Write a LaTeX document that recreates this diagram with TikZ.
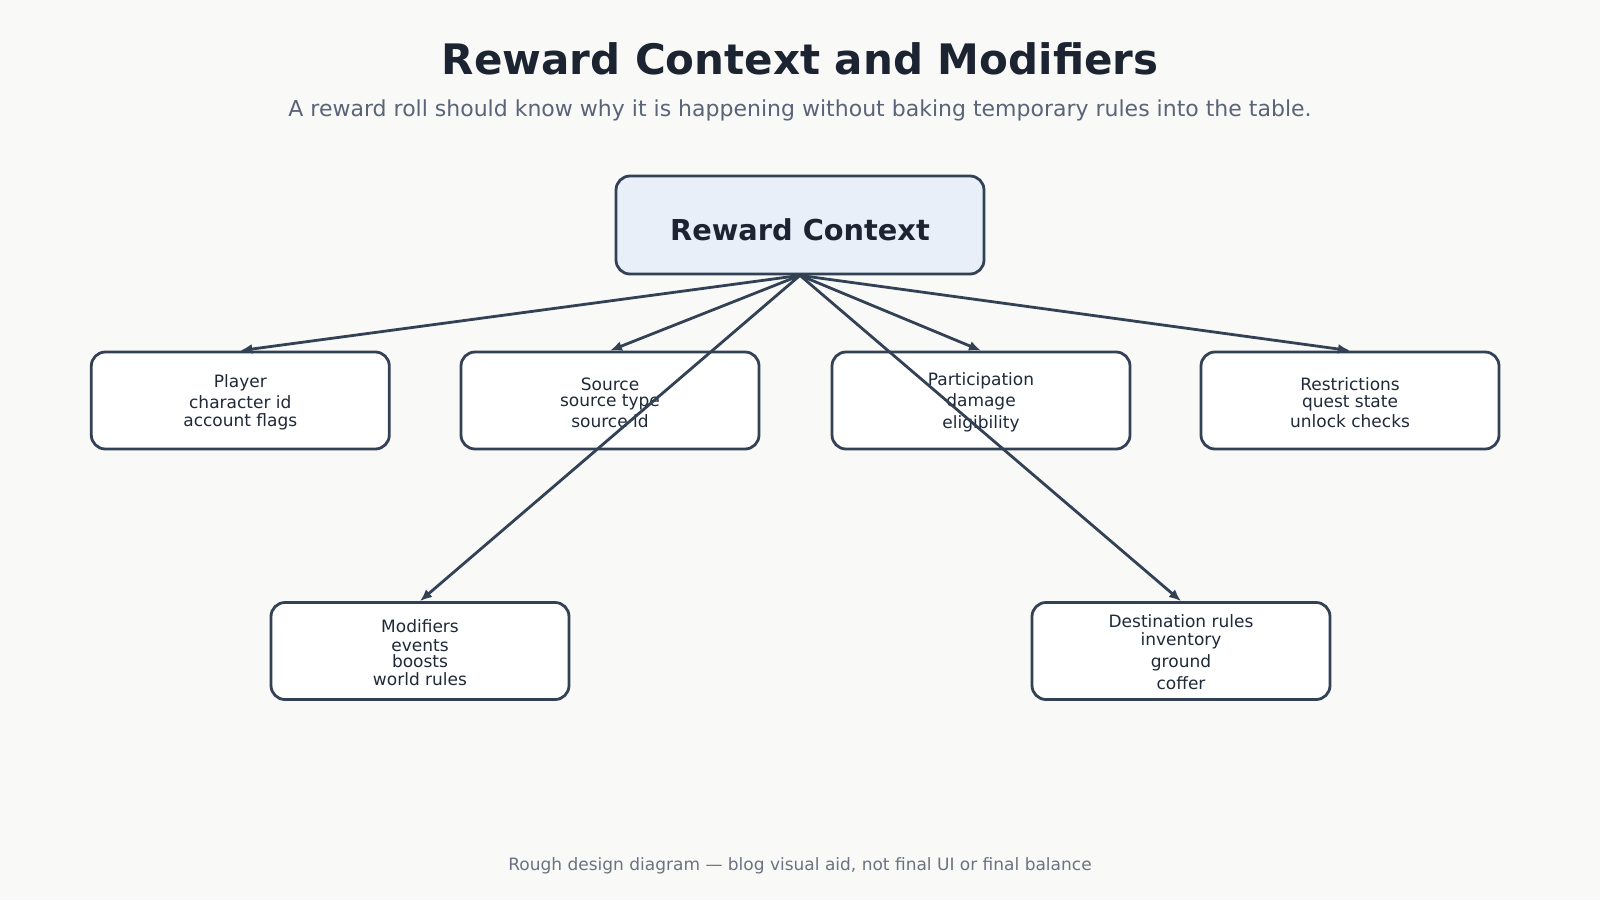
\documentclass[tikz,border=0pt]{standalone}
\usepackage{fontspec}
\setmainfont{DejaVu Sans}
\usetikzlibrary{arrows.meta}
\definecolor{bgc}{HTML}{F9F9F8}
\definecolor{edge}{HTML}{334155}
\definecolor{titlec}{HTML}{1C2331}
\definecolor{subc}{HTML}{5A6478}
\definecolor{footc}{HTML}{6B7280}
\definecolor{ctxfill}{HTML}{E8EFF8}
\definecolor{boxtext}{HTML}{1F2937}
\begin{document}
\begin{tikzpicture}[x=1pt,y=-1pt,
  box/.style={draw=edge, line width=2.8pt, rounded corners=14pt, fill=white,
    minimum width=298pt, minimum height=97pt, inner sep=0pt},
  ctxbox/.style={box, fill=ctxfill, minimum width=368pt, minimum height=98pt},
  lbl/.style={anchor=base, text=boxtext, font=\fontsize{17}{20}\selectfont, inner sep=0pt},
  conn/.style={draw=edge, line width=2.8pt, -{Latex[length=12pt,width=10pt]}}]
\useasboundingbox (0,0) rectangle (1600,900);
\fill[bgc] (0,0) rectangle (1600,900);

\node[anchor=base, text=titlec, font=\fontsize{42}{48}\selectfont\bfseries] (title) at (800,74.5) {Reward Context and Modifiers};
\node[anchor=base, text=subc, font=\fontsize{22}{26}\selectfont] (subtitle) at (800,116) {A reward roll should know why it is happening without baking temporary rules into the table.};
\node[anchor=base, text=footc, font=\fontsize{17}{20}\selectfont] (footer) at (800,870) {Rough design diagram — blog visual aid, not final UI or final balance};

\node[ctxbox] (ctx) at (800,225) {};
\node[anchor=base, text=titlec, font=\fontsize{28.8}{34}\selectfont\bfseries] (ctxt) at (800,240.7) {Reward Context};

\node[box] (player) at (240.3,400.5) {};
\node[box] (source) at (610,400.5) {};
\node[box] (part) at (981,400.5) {};
\node[box] (restr) at (1350,400.5) {};
\node[box] (mods) at (420,651) {};
\node[box] (dest) at (1181,651) {};

\node[lbl] (player1) at (240.3,387) {Player};
\node[lbl] (player2) at (240.3,408) {character id};
\node[lbl] (player3) at (240.3,426) {account flags};

\node[lbl] (source1) at (610,390) {Source};
\node[lbl] (source2) at (610,406.7) {source type};
\node[lbl] (source3) at (610,427) {source id};

\node[lbl] (part1) at (981,385) {Participation};
\node[lbl] (part2) at (981,406.7) {damage};
\node[lbl] (part3) at (981,428) {eligibility};

\node[lbl] (restr1) at (1350,390) {Restrictions};
\node[lbl] (restr2) at (1350,407) {quest state};
\node[lbl] (restr3) at (1350,427) {unlock checks};

\node[lbl] (mods1) at (420,632.7) {Modifiers};
\node[lbl] (mods2) at (420,651) {events};
\node[lbl] (mods3) at (420,667.7) {boosts};
\node[lbl] (mods4) at (420,685.7) {world rules};

\node[lbl] (dest1) at (1181,627.3) {Destination rules};
\node[lbl] (dest2) at (1181,645.7) {inventory};
\node[lbl] (dest3) at (1181,667.7) {ground};
\node[lbl] (dest4) at (1181,689.3) {coffer};

\draw[conn] (ctx.south) -- (player.north);
\draw[conn] (ctx.south) -- (source.north);
\draw[conn] (ctx.south) -- (part.north);
\draw[conn] (ctx.south) -- (restr.north);
\draw[conn] (ctx.south) -- (mods.north);
\draw[conn] (ctx.south) -- (dest.north);
\end{tikzpicture}
\end{document}
